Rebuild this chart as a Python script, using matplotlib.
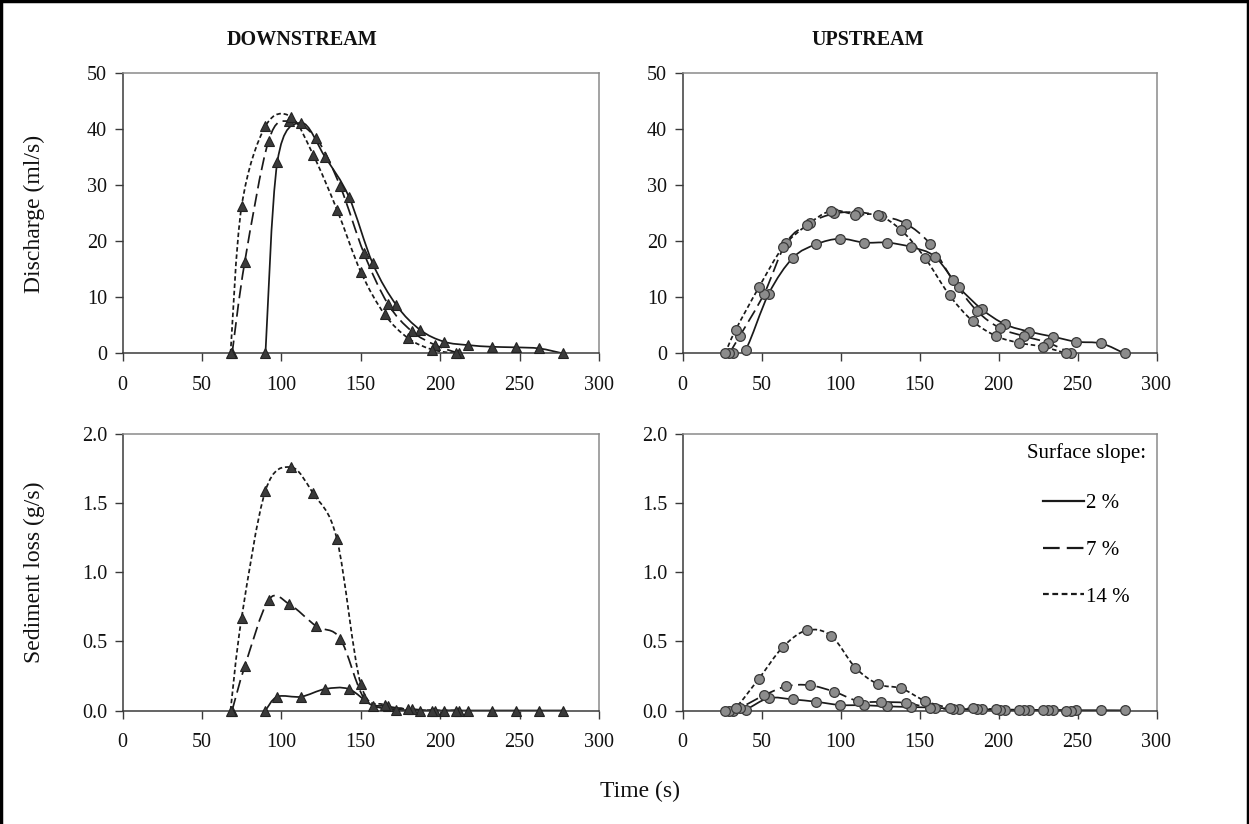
import numpy as np
import matplotlib
matplotlib.use("Agg")
import matplotlib.pyplot as plt
from matplotlib.path import Path
from matplotlib.patches import PathPatch
from matplotlib.lines import Line2D

plt.rcParams['font.family'] = ['Liberation Serif', 'DejaVu Serif']

# ---- Downstream runs: time (s), discharge (ml/s), sediment loss (g/s) ----
ds_t_2 = [90, 97.5, 112.5, 127.5, 142.5, 157.5, 172.5, 187.5, 202.5, 217.5, 232.5, 247.5, 262.5, 277.5]
ds_q_2 = [0, 34.2, 41.2, 35.1, 28.0, 16.1, 8.6, 4.2, 2.1, 1.5, 1.2, 1.1, 0.9, 0]
ds_s_2 = [0, 0.10, 0.10, 0.155, 0.155, 0.036, 0.007, 0, 0, 0, 0, 0, 0, 0]

ds_t_7 = [69, 77, 92, 105, 122, 137, 152, 167, 182, 197, 212]
ds_q_7 = [0, 16.4, 38.0, 41.5, 38.4, 29.9, 17.9, 8.9, 4.0, 1.5, 0]
ds_s_7 = [0, 0.32, 0.80, 0.77, 0.61, 0.52, 0.09, 0.03, 0.01, 0, 0]

ds_t_14 = [68, 75, 90, 106, 120, 135, 150, 165, 180, 195, 210]
ds_q_14 = [0, 26.3, 40.6, 42.3, 35.5, 25.7, 14.6, 7.0, 2.7, 0.7, 0]
ds_s_14 = [0, 0.67, 1.59, 1.76, 1.57, 1.24, 0.19, 0.04, 0.01, 0, 0]

# ---- Upstream runs ----
us_t_2 = [32, 40, 54.6, 69.9, 84.6, 99.7, 115, 129.7, 144.8, 159.7, 174.8, 189.5, 204.2, 219.5, 234.6, 249.3, 265.1, 279.8]
us_q_2 = [0, 0.7, 10.7, 17.1, 19.5, 20.5, 19.8, 19.8, 19.0, 17.3, 11.9, 7.9, 5.2, 3.9, 3.0, 2.1, 1.8, 0]
us_s_2 = [0, 0.007, 0.09, 0.08, 0.063, 0.04, 0.038, 0.03, 0.025, 0.02, 0.01, 0.008, 0.005, 0.004, 0.003, 0.002, 0.002, 0.001]

us_t_7 = [29.5, 36.4, 51.7, 65.7, 80.4, 96.2, 111.3, 125.5, 141.3, 156.6, 171.1, 186.4, 201.1, 216.2, 231.5, 246.2]
us_q_7 = [0, 3.2, 10.7, 19.8, 23.3, 25.0, 25.2, 24.6, 23.2, 19.6, 13.1, 7.6, 4.5, 3.1, 1.9, 0]
us_s_7 = [0, 0.02, 0.11, 0.175, 0.183, 0.135, 0.067, 0.062, 0.055, 0.02, 0.01, 0.008, 0.005, 0.003, 0.002, 0]

us_t_14 = [26.9, 33.6, 48.3, 63.6, 78.7, 94.1, 109.4, 123.9, 138.5, 153.4, 169, 183.6, 198.6, 213.2, 228.3, 243]
us_q_14 = [0, 4.2, 11.8, 19.0, 22.9, 25.5, 24.8, 24.7, 22.0, 17.1, 10.4, 5.8, 3.1, 1.9, 1.2, 0]
us_s_14 = [0, 0.02, 0.23, 0.46, 0.58, 0.54, 0.31, 0.19, 0.16, 0.07, 0.02, 0.015, 0.01, 0.005, 0.003, 0]

slope_labels = ['2 %', '7 %', '14 %']
x_ticks = [0, 50, 100, 150, 200, 250, 300]
q_ticks = [0, 10, 20, 30, 40, 50]
s_ticks = [0.0, 0.5, 1.0, 1.5, 2.0]

LINE_C = '#1a1a1a'
STYLES = [
    dict(ls='-'),
    dict(ls=(0, (7.5, 3.2))),
    dict(ls=(0, (2.6, 1.6))),
]
TRI = dict(marker='^', ms=6.5, mfc='#3a3a3a', mec='#222222', mew=0.8, ls='none')
CIR = dict(marker='o', ms=7.0, mfc='#8c8c8c', mec='#3a3a3a', mew=0.9, ls='none')


def smooth_path(x, y):
    """Cubic Bezier path through the points (Catmull-Rom style tangents)."""
    p = np.column_stack([x, y]).astype(float)
    n = len(p)
    verts = [p[0]]
    codes = [Path.MOVETO]
    for i in range(n - 1):
        p0 = p[i - 1] if i > 0 else p[i]
        p1 = p[i]
        p2 = p[i + 1]
        p3 = p[i + 2] if i + 2 < n else p[i + 1]
        verts += [p1 + (p2 - p0) / 6.0, p2 - (p3 - p1) / 6.0, p2]
        codes += [Path.CURVE4] * 3
    return Path(verts, codes)


def draw_series(ax, t, v, style, marker):
    ax.add_patch(PathPatch(smooth_path(t, v), fill=False, ec=LINE_C, lw=1.25,
                           capstyle='butt', zorder=2, **style))
    ax.plot(t, v, zorder=3, clip_on=False, **marker)


def style_axes(ax, yticks, ylim, yfmt):
    ax.set_xlim(0, 300)
    ax.set_ylim(*ylim)
    ax.set_xticks(x_ticks)
    ax.set_yticks(yticks)
    ax.set_yticklabels([yfmt.format(v) for v in yticks])
    for side in ('left', 'bottom'):
        ax.spines[side].set_color('#3a3a3a')
        ax.spines[side].set_linewidth(1.1)
    for side in ('top', 'right'):
        ax.spines[side].set_color('#8a8a8a')
        ax.spines[side].set_linewidth(1.1)
    ax.tick_params(axis='both', direction='out', length=6, width=1.0,
                   color='#3a3a3a', labelsize=14.5, labelcolor='#111111')
    ax.tick_params(axis='x', pad=10)
    ax.tick_params(axis='y', pad=5)


W, H = 1249, 824
fig = plt.figure(figsize=(W / 100, H / 100), dpi=100)


def add_axes(x0, x1, y0, y1):
    return fig.add_axes([x0 / W, 1 - y1 / H, (x1 - x0) / W, (y1 - y0) / H])


ax_dq = add_axes(122.5, 599, 73.5, 353.5)
ax_uq = add_axes(682.5, 1156.5, 73.5, 353.5)
ax_ds = add_axes(122.5, 599, 434, 710.5)
ax_us = add_axes(682.5, 1156.5, 434, 710.5)

ds_sets = [(ds_t_2, ds_q_2, ds_s_2), (ds_t_7, ds_q_7, ds_s_7), (ds_t_14, ds_q_14, ds_s_14)]
us_sets = [(us_t_2, us_q_2, us_s_2), (us_t_7, us_q_7, us_s_7), (us_t_14, us_q_14, us_s_14)]

for (t, q, s), st in zip(ds_sets, STYLES):
    draw_series(ax_dq, t, q, st, TRI)
    draw_series(ax_ds, t, s, st, TRI)
for (t, q, s), st in zip(us_sets, STYLES):
    draw_series(ax_uq, t, q, st, CIR)
    draw_series(ax_us, t, s, st, CIR)

for ax in (ax_dq, ax_uq):
    style_axes(ax, q_ticks, (0, 50), '{:.0f}')
for ax in (ax_ds, ax_us):
    style_axes(ax, s_ticks, (0, 2.0), '{:.1f}')

ax_dq.set_ylabel('Discharge (ml/s)', fontsize=17, color='#111111')
ax_ds.set_ylabel('Sediment loss (g/s)', fontsize=17, color='#111111')
ax_dq.yaxis.set_label_coords(-0.162, 0.5)
ax_ds.yaxis.set_label_coords(-0.162, 0.5)

fig.text(302 / W, 1 - 40 / H, 'DOWNSTREAM', ha='center', va='center',
         fontsize=14.5, fontweight='bold', color='#111111')
fig.text(868 / W, 1 - 40 / H, 'UPSTREAM', ha='center', va='center',
         fontsize=14.5, fontweight='bold', color='#111111')
fig.text(640 / W, 1 - 791 / H, 'Time (s)', ha='center', va='center',
         fontsize=17, color='#111111')

handles = [Line2D([], [], color=LINE_C, lw=1.6, **st) for st in STYLES]
leg = ax_us.legend(handles, slope_labels, title='Surface slope:', loc='upper right',
                   bbox_to_anchor=(0.998, 1.0), frameon=False, fontsize=15,
                   title_fontsize=15, handlelength=1.95, handletextpad=0.1,
                   labelspacing=1.3, borderaxespad=0.15, borderpad=0.3)
leg._legend_box.sep = 22

# outer border of the figure
for xs, ys in (([0.001, 0.001], [0, 0.999]), ([0.001, 0.999], [0.999, 0.999]),
               ([0.999, 0.999], [0.999, 0])):
    fig.add_artist(Line2D(xs, ys, transform=fig.transFigure, color='black', lw=2.5))

fig.savefig('out.png', dpi=100)
